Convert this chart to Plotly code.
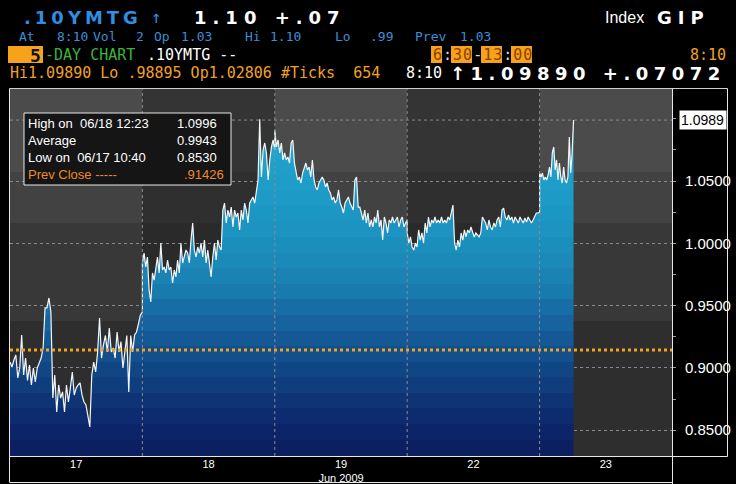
import numpy as np
import plotly.graph_objects as go

# ---------------- data ----------------
day_labels = ["17", "18", "19", "22", "23"]
month_label = "Jun 2009"
session_open = "06:30"
session_close = "13:00"
last_tick_time = "08:10"

price_jun17 = [0.9047, 0.9007, 0.9063, 0.9103, 0.8919, 0.9000, 0.9264, 0.8943, 0.9079, 0.8900,
               0.9023, 0.8863, 0.8999, 0.8887, 0.8999, 0.9039, 0.9079, 0.9160, 0.9481, 0.9481,
               0.9561, 0.9449, 0.8758, 0.8943, 0.8646, 0.8863, 0.8758, 0.8807, 0.8646, 0.8863,
               0.8726, 0.8839, 0.8967, 0.8782, 0.8839, 0.8863, 0.8879, 0.8782, 0.8726, 0.8702,
               0.8598, 0.8526, 0.8943, 0.9047, 0.8967, 0.9128, 0.9400, 0.9079, 0.9184, 0.9260,
               0.9128, 0.9320, 0.9128, 0.9160, 0.9079, 0.9288, 0.9128, 0.9210, 0.8999, 0.9128,
               0.9260, 0.8807, 0.9260, 0.9128, 0.9264, 0.9288, 0.9368, 0.9424, 0.9449]
price_jun18 = [0.9842, 0.9922, 0.9810, 0.9890, 0.9625, 0.9529, 0.9762, 0.9705, 0.9810, 0.9890,
               0.9762, 1.0002, 0.9786, 0.9810, 0.9762, 0.9866, 0.9786, 0.9810, 0.9681, 0.9786,
               0.9730, 0.9866, 0.9762, 1.0002, 0.9842, 0.9890, 0.9946, 0.9922, 0.9842, 1.0026,
               1.0163, 0.9946, 0.9890, 0.9970, 0.9922, 1.0002, 0.9890, 1.0026, 0.9842, 0.9946,
               0.9810, 0.9730, 0.9890, 1.0002, 0.9866, 1.0026, 0.9970, 0.9946, 1.0267, 1.0323,
               1.0163, 1.0267, 1.0211, 1.0291, 1.0131, 1.0267, 1.0211, 1.0243, 1.0107, 1.0267,
               1.0187, 1.0323, 1.0267, 1.0163, 1.0323, 1.0348, 1.0372, 1.0323, 1.0428, 1.0508,
               1.0996, 1.0532, 1.0749, 1.0805, 1.0725, 1.0508, 1.0669, 1.0773, 1.0829, 1.0749]
price_jun19 = [1.0909, 1.0773, 1.0829, 1.0725, 1.0805, 1.0669, 1.0725, 1.0669, 1.0693, 1.0644,
               1.0805, 1.0829, 1.0644, 1.0588, 1.0508, 1.0532, 1.0484, 1.0564, 1.0612, 1.0644,
               1.0588, 1.0612, 1.0532, 1.0669, 1.0508, 1.0452, 1.0428, 1.0484, 1.0508, 1.0532,
               1.0508, 1.0452, 1.0484, 1.0428, 1.0404, 1.0348, 1.0372, 1.0323, 1.0348, 1.0428,
               1.0323, 1.0291, 1.0243, 1.0323, 1.0348, 1.0372, 1.0323, 1.0291, 1.0267, 1.0508,
               1.0532, 1.0291, 1.0291, 1.0243, 1.0187, 1.0267, 1.0163, 1.0243, 1.0131, 1.0187,
               1.0131, 1.0211, 1.0163, 1.0267, 1.0131, 1.0187, 1.0026, 1.0211, 1.0163, 1.0083,
               1.0187, 1.0163, 1.0211, 1.0163, 1.0187, 1.0211, 1.0131, 1.0187, 1.0211, 1.0131,
               1.0163, 1.0187]
price_jun22 = [1.0083, 1.0002, 1.0051, 0.9970, 0.9946, 1.0002, 0.9970, 1.0107, 1.0026, 1.0083,
               1.0002, 1.0163, 1.0083, 1.0211, 1.0131, 1.0187, 1.0163, 1.0211, 1.0163, 1.0187,
               1.0163, 1.0211, 1.0163, 1.0187, 1.0163, 1.0211, 1.0187, 1.0243, 1.0307, 1.0002,
               0.9946, 1.0026, 0.9970, 1.0083, 1.0026, 1.0107, 1.0051, 1.0107, 1.0083, 1.0131,
               1.0083, 1.0051, 1.0083, 1.0067, 1.0051, 1.0083, 1.0211, 1.0187, 1.0163, 1.0107,
               1.0187, 1.0131, 1.0107, 1.0163, 1.0131, 1.0187, 1.0211, 1.0131, 1.0267, 1.0283,
               1.0211, 1.0187, 1.0227, 1.0187, 1.0211, 1.0163, 1.0211, 1.0187, 1.0163, 1.0211,
               1.0187, 1.0163, 1.0203, 1.0171, 1.0211, 1.0187, 1.0163, 1.0187, 1.0211, 1.0243,
               1.0243, 1.0251]
price_jun23 = [1.0564, 1.0532, 1.0564, 1.0508, 1.0532, 1.0508, 1.0548, 1.0612, 1.0532, 1.0725,
               1.0773, 1.0588, 1.0669, 1.0508, 1.0644, 1.0532, 1.0484, 1.0612, 1.0508, 1.0484,
               1.0532, 1.0853, 1.0564, 1.0725, 1.0989]

prev_close = 0.91426
last_price = 1.0989
y_tick_values = [0.85, 0.90, 0.95, 1.00, 1.05]
stat_labels = ["High on  06/18 12:23", "Average", "Low on  06/17 10:40"]
stat_values = ["1.0996", "0.9943", "0.8530"]
prev_close_label = "Prev Close -----"
prev_close_text = ".91426"

# ---------------- geometry / style ----------------
W, H = 736, 484
PL, PR, PT, PB = 10, 672, 88, 456
Y_RANGE = [0.82928, 1.12464]
N_DAYS = len(day_labels)
MONO = "DejaVu Sans Mono"
BIG = "DejaVu Sans"
SANS = "Liberation Sans"
NARROW = "Liberation Sans Narrow, Liberation Sans"


def fx(px):
    return (px - PL) / (PR - PL)


def fy(py):
    return (PB - py) / (PB - PT)


def xd(px):
    return fx(px) * N_DAYS


def minutes(t):
    h, m = t.split(":")
    return int(h) * 60 + int(m)


session_len = minutes(session_close) - minutes(session_open)
days = [price_jun17, price_jun18, price_jun19, price_jun22, price_jun23]
xs, ys = [], []
for i, vals in enumerate(days):
    if i == len(days) - 1:
        span = (minutes(last_tick_time) - minutes(session_open)) / session_len
    else:
        span = 1.0
    xs.extend(list(i + np.linspace(0, span, len(vals))))
    ys.extend(vals)

# stepped vertical fill gradient (value -> colour anchors)
G0, G1 = 0.83, 1.13
grad_anchor_vals = [0.83, 0.86, 0.89, 0.915, 0.94, 0.965, 0.99, 1.02, 1.05, 1.08, 1.13]
grad_anchor_cols = ["#0a1c5e", "#0d2a6e", "#10407f", "#13528f", "#1666a2", "#1a7eb0",
                    "#1b8cba", "#1c96c2", "#1e9dc8", "#20a4cd", "#23abd2"]


def hex2rgb(h):
    return np.array([int(h[i:i + 2], 16) for i in (1, 3, 5)], dtype=float)


anchor_rgb = np.array([hex2rgb(c) for c in grad_anchor_cols])
n_bands = 24
colorscale = []
for k in range(n_bands):
    mid = G0 + (k + 0.5) * (G1 - G0) / n_bands
    rgb = [np.interp(mid, grad_anchor_vals, anchor_rgb[:, ch]) for ch in range(3)]
    c = "rgb(%d,%d,%d)" % tuple(int(round(v)) for v in rgb)
    colorscale.append([k / n_bands, c])
    colorscale.append([(k + 1) / n_bands, c])

fig = go.Figure()

fig.add_trace(go.Scatter(
    x=xs, y=ys, mode="lines",
    line=dict(color="#f2f6f8", width=1.2),
    fill="tozeroy",
    fillgradient=dict(type="vertical", colorscale=colorscale, start=G0, stop=G1),
    hoverinfo="skip", showlegend=False,
))

# axis arrow markers next to y labels
fig.add_trace(go.Scatter(
    x=[xd(678)] * len(y_tick_values), y=y_tick_values, mode="markers",
    marker=dict(symbol="triangle-right", size=7, color="#8c8c8c"),
    cliponaxis=False, hoverinfo="skip", showlegend=False,
))
# notch of last price box
fig.add_trace(go.Scatter(
    x=[xd(679)], y=[last_price], mode="markers",
    marker=dict(symbol="triangle-left", size=11, color="white"),
    cliponaxis=False, hoverinfo="skip", showlegend=False,
))

shapes = []
# background bands (per day column, darker downward)
band_edges = [0.0, fy(321), fy(223), fy(172), 1.0]
light_cols = ["#2e2e2e", "#383838", "#424242", "#4b4b4b"]
dark_cols = ["#262626", "#2a2a2a", "#2f2f2f", "#343434"]
for i in range(N_DAYS):
    cols = light_cols if i % 2 == 0 else dark_cols
    for j in range(len(band_edges) - 1):
        shapes.append(dict(type="rect", xref="x", yref="paper", x0=i, x1=i + 1,
                           y0=band_edges[j], y1=band_edges[j + 1],
                           fillcolor=cols[j], line=dict(width=0), layer="below"))
# last price dashed line
shapes.append(dict(type="line", xref="x", yref="y", x0=0, x1=N_DAYS, y0=last_price, y1=last_price,
                   line=dict(color="#8a8a8a", width=1, dash="3px,3px"), layer="below"))
# day separators
for i in range(1, N_DAYS):
    shapes.append(dict(type="line", xref="x", yref="paper", x0=i, x1=i, y0=0, y1=1,
                       line=dict(color="#8a8a8a", width=1, dash="3px,3px"), layer="above"))
# prev close dotted line
shapes.append(dict(type="line", xref="x", yref="y", x0=0, x1=N_DAYS, y0=prev_close, y1=prev_close,
                   line=dict(color="#f4a11f", width=3, dash="dot"), layer="above"))
# legend box
shapes.append(dict(type="rect", xref="paper", yref="paper", x0=fx(24), x1=fx(231), y0=fy(185), y1=fy(113),
                   fillcolor="#151515", line=dict(color="#e8e8e8", width=1), layer="above"))
# frame lines
frame = [
    (9.5, 88.5, 727.5, 88.5, "#cfcfcf"),
    (9.5, 88.5, 9.5, 482.5, "#e8e8e8"),
    (672.5, 88.5, 672.5, 484, "#e8e8e8"),
    (727.5, 88.5, 727.5, 456.5, "#e8e8e8"),
    (9.5, 456.5, 727.5, 456.5, "#e8e8e8"),
    (9.5, 482.5, 672.5, 482.5, "#e8e8e8"),
]
for x0, y0, x1, y1, c in frame:
    shapes.append(dict(type="line", xref="paper", yref="paper", x0=fx(x0), x1=fx(x1), y0=fy(y0), y1=fy(y1),
                       line=dict(color=c, width=1), layer="above"))
# header orange boxes
for x0, x1 in [(8, 43), (431, 442), (451, 472), (481, 502), (511, 532)]:
    shapes.append(dict(type="rect", xref="paper", yref="paper", x0=fx(x0), x1=fx(x1), y0=fy(63), y1=fy(46),
                       fillcolor="#f7a21b", line=dict(width=0), layer="above"))

annotations = []


def label(x, y, text, color, size, family=MONO, bold=False, spacing=None, anchor="left"):
    if spacing:
        text = '<span style="letter-spacing:%spx">%s</span>' % (spacing, text)
    annotations.append(dict(
        x=fx(x), y=fy(y), xref="paper", yref="paper", text=text, showarrow=False,
        xanchor=anchor, yanchor="middle",
        font=dict(family=family, size=size, color=color, weight="bold" if bold else "normal")))


BLUE = "#3a8fd8"
ORANGE = "#f2a024"
# row 1
label(22, 17, ".10YMTG", "#2e8fe0", 18, family=BIG, bold=True, spacing=4)
label(149, 17, "↑", "#2e8fe0", 17)
label(192, 17, "1.10 +.07", "white", 18, family=BIG, bold=True, spacing=6)
label(603, 17, "Index", "white", 16, family=SANS)
label(655, 17, "GIP", "white", 18, family=BIG, bold=True, spacing=6)
# row 2
for t, x in [("At", 17), ("8:10", 55), ("Vol", 91), ("2", 134), ("Op", 152), ("1.03", 179),
             ("Hi", 243), ("1.10", 268), ("Lo", 333), (".99", 368), ("Prev", 413), ("1.03", 458)]:
    label(x, 36, t, BLUE, 13)
# row 3
label(43, 55, "5", "#111111", 18, bold=True, anchor="right")
label(43, 55, "-DAY CHART", "#3cb43c", 15)
label(145, 55, ".10YMTG --", "white", 15)
DIG = "#8a4000"
SEP = "#dddddd"
time_text = ''.join('<span style="color:%s">%s</span>' % (c, t) for t, c in
                    [("6", DIG), (":", SEP), ("30", DIG), ("-", SEP), ("13", DIG), (":", SEP), ("00", DIG)])
label(431, 55, time_text, DIG, 15, spacing=1)
label(728, 55, "8:10", ORANGE, 15, anchor="right")
# row 4
label(8, 73, "Hi1.09890 Lo .98895 Op1.02806 #Ticks  654", ORANGE, 15)
label(404, 73, "8:10", "white", 15)
label(448, 73, "↑1.09890 +.07072", "white", 18, family=BIG, bold=True, spacing=5.5)

# legend box text
for k, (t, v) in enumerate(zip(stat_labels, stat_values)):
    label(26, 123 + 17 * k, t, "white", 13, family=SANS)
    label(175, 123 + 17 * k, v, "white", 13, family=SANS)
label(26, 174, prev_close_label, "#ee8a2a", 13, family=SANS)
label(226, 174, prev_close_text, "#ee8a2a", 13, family=SANS, anchor="right")

# last price box
annotations.append(dict(x=fx(679), y=last_price, xref="paper", yref="y", text="%.4f" % last_price,
                        showarrow=False, xanchor="left", yanchor="middle", bgcolor="white",
                        width=44, align="left", borderpad=1,
                        font=dict(family=NARROW, size=14, color="black")))

tick_text = [d if d != "19" else d + "<br>" + month_label for d in day_labels]

fig.update_layout(
    template="none",
    width=W, height=H,
    margin=dict(l=PL, r=W - PR, t=PT, b=H - PB, pad=0),
    paper_bgcolor="black", plot_bgcolor="#2a2a2a",
    showlegend=False,
    shapes=shapes, annotations=annotations,
    xaxis=dict(range=[0, N_DAYS], tickvals=[i + 0.5 for i in range(N_DAYS)], ticktext=tick_text,
               showgrid=False, zeroline=False, showline=False, ticks="", automargin=False,
               tickfont=dict(family=SANS, size=11, color="white")),
    yaxis=dict(range=Y_RANGE, side="right", tickvals=y_tick_values, tickformat=".4f",
               showgrid=True, gridcolor="#8a8a8a", griddash="3px,3px", gridwidth=1,
               zeroline=False, showline=False, automargin=False,
               ticks="outside", ticklen=9, tickcolor="rgba(0,0,0,0)",
               tickfont=dict(family=NARROW, size=15, color="white"),
               minor=dict(dtick=0.025, ticks="outside", ticklen=3, tickcolor="#9a9a9a", showgrid=False)),
)

fig.write_html("out.html", config={"displayModeBar": False},
               post_script="document.body.style.margin='0px';document.body.style.overflow='hidden';")
